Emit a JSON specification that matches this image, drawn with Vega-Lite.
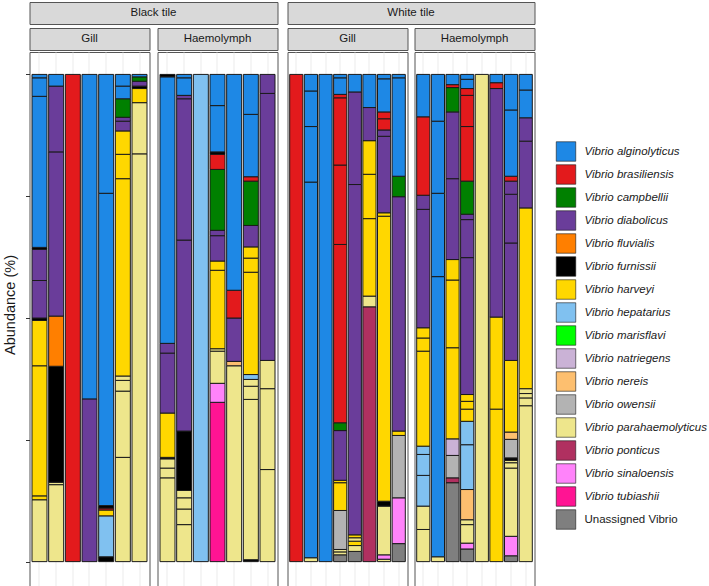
{
  "$schema": "https://vega.github.io/schema/vega-lite/v6.json",
  "padding": {"left": 1.5, "top": 1, "right": 0, "bottom": 0},
  "title": {"text": "Abundance (%)", "orient": "left", "anchor": "middle", "fontSize": 14.5, "fontWeight": "normal", "color": "#1a1a1a", "offset": 6.5, "dx": -11},
  "datasets": {
    "d": [
      {"g":"BG","s":1,"o":1,"sp":"Vibrio parahaemolyticus","v":12.7},
      {"g":"BG","s":1,"o":2,"sp":"Vibrio harveyi","v":0.8},
      {"g":"BG","s":1,"o":3,"sp":"Vibrio harveyi","v":26.7},
      {"g":"BG","s":1,"o":4,"sp":"Vibrio harveyi","v":9.3},
      {"g":"BG","s":1,"o":5,"sp":"Vibrio furnissii","v":0.5},
      {"g":"BG","s":1,"o":6,"sp":"Vibrio diabolicus","v":7.7},
      {"g":"BG","s":1,"o":7,"sp":"Vibrio diabolicus","v":6.4},
      {"g":"BG","s":1,"o":8,"sp":"Vibrio furnissii","v":0.4},
      {"g":"BG","s":1,"o":9,"sp":"Vibrio alginolyticus","v":31.0},
      {"g":"BG","s":1,"o":10,"sp":"Vibrio alginolyticus","v":3.8},
      {"g":"BG","s":1,"o":11,"sp":"Vibrio alginolyticus","v":0.7},
      {"g":"BG","s":2,"o":1,"sp":"Vibrio parahaemolyticus","v":15.8},
      {"g":"BG","s":2,"o":2,"sp":"Vibrio parahaemolyticus","v":0.5},
      {"g":"BG","s":2,"o":3,"sp":"Vibrio furnissii","v":23.8},
      {"g":"BG","s":2,"o":4,"sp":"Vibrio fluvialis","v":10.3},
      {"g":"BG","s":2,"o":5,"sp":"Vibrio diabolicus","v":33.7},
      {"g":"BG","s":2,"o":6,"sp":"Vibrio diabolicus","v":13.5},
      {"g":"BG","s":2,"o":7,"sp":"Vibrio alginolyticus","v":2.4},
      {"g":"BG","s":3,"o":1,"sp":"Vibrio brasiliensis","v":100},
      {"g":"BG","s":4,"o":1,"sp":"Vibrio diabolicus","v":33.4},
      {"g":"BG","s":4,"o":2,"sp":"Vibrio alginolyticus","v":66.6},
      {"g":"BG","s":5,"o":1,"sp":"Vibrio furnissii","v":1.0},
      {"g":"BG","s":5,"o":2,"sp":"Vibrio hepatarius","v":8.4},
      {"g":"BG","s":5,"o":3,"sp":"Vibrio harveyi","v":1.2},
      {"g":"BG","s":5,"o":4,"sp":"Vibrio brasiliensis","v":0.4},
      {"g":"BG","s":5,"o":5,"sp":"Vibrio furnissii","v":0.5},
      {"g":"BG","s":5,"o":6,"sp":"Vibrio alginolyticus","v":64.1},
      {"g":"BG","s":5,"o":7,"sp":"Vibrio alginolyticus","v":24.4},
      {"g":"BG","s":6,"o":1,"sp":"Vibrio parahaemolyticus","v":21.4},
      {"g":"BG","s":6,"o":2,"sp":"Vibrio parahaemolyticus","v":13.6},
      {"g":"BG","s":6,"o":3,"sp":"Vibrio parahaemolyticus","v":2.2},
      {"g":"BG","s":6,"o":4,"sp":"Vibrio parahaemolyticus","v":0.9},
      {"g":"BG","s":6,"o":5,"sp":"Vibrio harveyi","v":40.5},
      {"g":"BG","s":6,"o":6,"sp":"Vibrio harveyi","v":5.0},
      {"g":"BG","s":6,"o":7,"sp":"Vibrio harveyi","v":4.8},
      {"g":"BG","s":6,"o":8,"sp":"Vibrio diabolicus","v":2.0},
      {"g":"BG","s":6,"o":9,"sp":"Vibrio diabolicus","v":0.8},
      {"g":"BG","s":6,"o":10,"sp":"Vibrio campbellii","v":3.8},
      {"g":"BG","s":6,"o":11,"sp":"Vibrio alginolyticus","v":2.6},
      {"g":"BG","s":6,"o":12,"sp":"Vibrio alginolyticus","v":2.4},
      {"g":"BG","s":7,"o":1,"sp":"Vibrio parahaemolyticus","v":83.7},
      {"g":"BG","s":7,"o":2,"sp":"Vibrio parahaemolyticus","v":10.5},
      {"g":"BG","s":7,"o":3,"sp":"Vibrio harveyi","v":2.9},
      {"g":"BG","s":7,"o":4,"sp":"Vibrio furnissii","v":0.5},
      {"g":"BG","s":7,"o":5,"sp":"Vibrio diabolicus","v":1.0},
      {"g":"BG","s":7,"o":6,"sp":"Vibrio campbellii","v":0.9},
      {"g":"BG","s":7,"o":7,"sp":"Vibrio alginolyticus","v":0.5},

      {"g":"BH","s":1,"o":1,"sp":"Vibrio parahaemolyticus","v":17.2},
      {"g":"BH","s":1,"o":2,"sp":"Vibrio parahaemolyticus","v":2.0},
      {"g":"BH","s":1,"o":3,"sp":"Vibrio parahaemolyticus","v":1.9},
      {"g":"BH","s":1,"o":4,"sp":"Vibrio furnissii","v":0.3},
      {"g":"BH","s":1,"o":5,"sp":"Vibrio harveyi","v":9.1},
      {"g":"BH","s":1,"o":6,"sp":"Vibrio diabolicus","v":12.3},
      {"g":"BH","s":1,"o":7,"sp":"Vibrio diabolicus","v":2.0},
      {"g":"BH","s":1,"o":8,"sp":"Vibrio alginolyticus","v":54.7},
      {"g":"BH","s":1,"o":9,"sp":"Vibrio furnissii","v":0.5},
      {"g":"BH","s":2,"o":1,"sp":"Vibrio parahaemolyticus","v":7.6},
      {"g":"BH","s":2,"o":2,"sp":"Vibrio parahaemolyticus","v":3.2},
      {"g":"BH","s":2,"o":3,"sp":"Vibrio parahaemolyticus","v":2.3},
      {"g":"BH","s":2,"o":4,"sp":"Vibrio parahaemolyticus","v":1.5},
      {"g":"BH","s":2,"o":5,"sp":"Vibrio furnissii","v":12.2},
      {"g":"BH","s":2,"o":6,"sp":"Vibrio diabolicus","v":39.2},
      {"g":"BH","s":2,"o":7,"sp":"Vibrio diabolicus","v":29.0},
      {"g":"BH","s":2,"o":8,"sp":"Vibrio diabolicus","v":0.7},
      {"g":"BH","s":2,"o":9,"sp":"Vibrio alginolyticus","v":3.6},
      {"g":"BH","s":2,"o":10,"sp":"Vibrio alginolyticus","v":0.7},
      {"g":"BH","s":3,"o":1,"sp":"Vibrio hepatarius","v":100},
      {"g":"BH","s":4,"o":1,"sp":"Vibrio tubiashii","v":32.7},
      {"g":"BH","s":4,"o":2,"sp":"Vibrio sinaloensis","v":3.9},
      {"g":"BH","s":4,"o":3,"sp":"Vibrio parahaemolyticus","v":6.6},
      {"g":"BH","s":4,"o":4,"sp":"Vibrio parahaemolyticus","v":0.5},
      {"g":"BH","s":4,"o":5,"sp":"Vibrio harveyi","v":16.1},
      {"g":"BH","s":4,"o":6,"sp":"Vibrio harveyi","v":1.9},
      {"g":"BH","s":4,"o":7,"sp":"Vibrio diabolicus","v":5.2},
      {"g":"BH","s":4,"o":8,"sp":"Vibrio diabolicus","v":1.1},
      {"g":"BH","s":4,"o":9,"sp":"Vibrio campbellii","v":12.5},
      {"g":"BH","s":4,"o":10,"sp":"Vibrio brasiliensis","v":3.1},
      {"g":"BH","s":4,"o":11,"sp":"Vibrio furnissii","v":0.5},
      {"g":"BH","s":4,"o":12,"sp":"Vibrio alginolyticus","v":9.5},
      {"g":"BH","s":4,"o":13,"sp":"Vibrio alginolyticus","v":6.4},
      {"g":"BH","s":5,"o":1,"sp":"Vibrio parahaemolyticus","v":40.2},
      {"g":"BH","s":5,"o":2,"sp":"Vibrio nereis","v":0.9},
      {"g":"BH","s":5,"o":3,"sp":"Vibrio diabolicus","v":8.9},
      {"g":"BH","s":5,"o":4,"sp":"Vibrio brasiliensis","v":5.7},
      {"g":"BH","s":5,"o":5,"sp":"Vibrio alginolyticus","v":44.3},
      {"g":"BH","s":6,"o":1,"sp":"Vibrio furnissii","v":0.4},
      {"g":"BH","s":6,"o":2,"sp":"Vibrio parahaemolyticus","v":32.9},
      {"g":"BH","s":6,"o":3,"sp":"Vibrio parahaemolyticus","v":2.7},
      {"g":"BH","s":6,"o":4,"sp":"Vibrio parahaemolyticus","v":1.4},
      {"g":"BH","s":6,"o":5,"sp":"Vibrio hepatarius","v":1.0},
      {"g":"BH","s":6,"o":6,"sp":"Vibrio harveyi","v":21.0},
      {"g":"BH","s":6,"o":7,"sp":"Vibrio harveyi","v":2.9},
      {"g":"BH","s":6,"o":8,"sp":"Vibrio harveyi","v":2.3},
      {"g":"BH","s":6,"o":9,"sp":"Vibrio diabolicus","v":4.4},
      {"g":"BH","s":6,"o":10,"sp":"Vibrio campbellii","v":9.1},
      {"g":"BH","s":6,"o":11,"sp":"Vibrio brasiliensis","v":0.9},
      {"g":"BH","s":6,"o":12,"sp":"Vibrio alginolyticus","v":12.8},
      {"g":"BH","s":6,"o":13,"sp":"Vibrio alginolyticus","v":8.2},
      {"g":"BH","s":7,"o":1,"sp":"Vibrio parahaemolyticus","v":18.9},
      {"g":"BH","s":7,"o":2,"sp":"Vibrio parahaemolyticus","v":16.6},
      {"g":"BH","s":7,"o":3,"sp":"Vibrio parahaemolyticus","v":5.8},
      {"g":"BH","s":7,"o":4,"sp":"Vibrio diabolicus","v":54.8},
      {"g":"BH","s":7,"o":5,"sp":"Vibrio diabolicus","v":3.9},

      {"g":"WG","s":1,"o":1,"sp":"Vibrio brasiliensis","v":100},
      {"g":"WG","s":2,"o":1,"sp":"Vibrio parahaemolyticus","v":0.8},
      {"g":"WG","s":2,"o":2,"sp":"Vibrio alginolyticus","v":77.1},
      {"g":"WG","s":2,"o":3,"sp":"Vibrio alginolyticus","v":11.4},
      {"g":"WG","s":2,"o":4,"sp":"Vibrio alginolyticus","v":7.3},
      {"g":"WG","s":2,"o":5,"sp":"Vibrio alginolyticus","v":3.4},
      {"g":"WG","s":3,"o":1,"sp":"Vibrio alginolyticus","v":100},
      {"g":"WG","s":4,"o":1,"sp":"Unassigned Vibrio","v":1.4},
      {"g":"WG","s":4,"o":2,"sp":"Vibrio parahaemolyticus","v":0.6},
      {"g":"WG","s":4,"o":3,"sp":"Vibrio parahaemolyticus","v":0.5},
      {"g":"WG","s":4,"o":4,"sp":"Vibrio owensii","v":8.0},
      {"g":"WG","s":4,"o":5,"sp":"Vibrio harveyi","v":5.7},
      {"g":"WG","s":4,"o":6,"sp":"Vibrio harveyi","v":0.5},
      {"g":"WG","s":4,"o":7,"sp":"Vibrio diabolicus","v":10.2},
      {"g":"WG","s":4,"o":8,"sp":"Vibrio campbellii","v":1.6},
      {"g":"WG","s":4,"o":9,"sp":"Vibrio brasiliensis","v":36.6},
      {"g":"WG","s":4,"o":10,"sp":"Vibrio brasiliensis","v":16.3},
      {"g":"WG","s":4,"o":11,"sp":"Vibrio brasiliensis","v":13.8},
      {"g":"WG","s":4,"o":12,"sp":"Vibrio brasiliensis","v":0.7},
      {"g":"WG","s":4,"o":13,"sp":"Vibrio alginolyticus","v":3.4},
      {"g":"WG","s":4,"o":14,"sp":"Vibrio alginolyticus","v":0.7},
      {"g":"WG","s":5,"o":1,"sp":"Unassigned Vibrio","v":2.1},
      {"g":"WG","s":5,"o":2,"sp":"Vibrio parahaemolyticus","v":1.2},
      {"g":"WG","s":5,"o":3,"sp":"Vibrio harveyi","v":0.9},
      {"g":"WG","s":5,"o":4,"sp":"Vibrio parahaemolyticus","v":0.7},
      {"g":"WG","s":5,"o":5,"sp":"Vibrio harveyi","v":0.6},
      {"g":"WG","s":5,"o":6,"sp":"Vibrio diabolicus","v":71.9},
      {"g":"WG","s":5,"o":7,"sp":"Vibrio diabolicus","v":19.0},
      {"g":"WG","s":5,"o":8,"sp":"Vibrio alginolyticus","v":3.6},
      {"g":"WG","s":6,"o":1,"sp":"Vibrio ponticus","v":52.3},
      {"g":"WG","s":6,"o":2,"sp":"Vibrio parahaemolyticus","v":2.2},
      {"g":"WG","s":6,"o":3,"sp":"Vibrio harveyi","v":15.9},
      {"g":"WG","s":6,"o":4,"sp":"Vibrio harveyi","v":9.1},
      {"g":"WG","s":6,"o":5,"sp":"Vibrio harveyi","v":6.9},
      {"g":"WG","s":6,"o":6,"sp":"Vibrio diabolicus","v":6.8},
      {"g":"WG","s":6,"o":7,"sp":"Vibrio alginolyticus","v":6.8},
      {"g":"WG","s":7,"o":1,"sp":"Vibrio parahaemolyticus","v":0.5},
      {"g":"WG","s":7,"o":2,"sp":"Vibrio sinaloensis","v":0.9},
      {"g":"WG","s":7,"o":3,"sp":"Vibrio parahaemolyticus","v":10.0},
      {"g":"WG","s":7,"o":4,"sp":"Vibrio furnissii","v":1.0},
      {"g":"WG","s":7,"o":5,"sp":"Vibrio harveyi","v":58.5},
      {"g":"WG","s":7,"o":6,"sp":"Vibrio harveyi","v":0.7},
      {"g":"WG","s":7,"o":7,"sp":"Vibrio diabolicus","v":15.7},
      {"g":"WG","s":7,"o":8,"sp":"Vibrio diabolicus","v":1.3},
      {"g":"WG","s":7,"o":9,"sp":"Vibrio brasiliensis","v":2.3},
      {"g":"WG","s":7,"o":10,"sp":"Vibrio brasiliensis","v":1.4},
      {"g":"WG","s":7,"o":11,"sp":"Vibrio alginolyticus","v":6.8},
      {"g":"WG","s":7,"o":12,"sp":"Vibrio alginolyticus","v":0.9},
      {"g":"WG","s":8,"o":1,"sp":"Unassigned Vibrio","v":3.7},
      {"g":"WG","s":8,"o":2,"sp":"Vibrio sinaloensis","v":9.4},
      {"g":"WG","s":8,"o":3,"sp":"Vibrio owensii","v":12.8},
      {"g":"WG","s":8,"o":4,"sp":"Vibrio harveyi","v":0.9},
      {"g":"WG","s":8,"o":5,"sp":"Vibrio diabolicus","v":48.1},
      {"g":"WG","s":8,"o":6,"sp":"Vibrio campbellii","v":4.2},
      {"g":"WG","s":8,"o":7,"sp":"Vibrio alginolyticus","v":20.2},
      {"g":"WG","s":8,"o":8,"sp":"Vibrio alginolyticus","v":0.7},

      {"g":"WH","s":1,"o":1,"sp":"Vibrio parahaemolyticus","v":6.6},
      {"g":"WH","s":1,"o":2,"sp":"Vibrio parahaemolyticus","v":4.8},
      {"g":"WH","s":1,"o":3,"sp":"Vibrio hepatarius","v":6.3},
      {"g":"WH","s":1,"o":4,"sp":"Vibrio hepatarius","v":4.3},
      {"g":"WH","s":1,"o":5,"sp":"Vibrio hepatarius","v":1.7},
      {"g":"WH","s":1,"o":6,"sp":"Vibrio harveyi","v":19.5},
      {"g":"WH","s":1,"o":7,"sp":"Vibrio harveyi","v":2.7},
      {"g":"WH","s":1,"o":8,"sp":"Vibrio harveyi","v":2.1},
      {"g":"WH","s":1,"o":9,"sp":"Vibrio diabolicus","v":24.3},
      {"g":"WH","s":1,"o":10,"sp":"Vibrio diabolicus","v":2.9},
      {"g":"WH","s":1,"o":11,"sp":"Vibrio brasiliensis","v":16.1},
      {"g":"WH","s":1,"o":12,"sp":"Vibrio alginolyticus","v":8.7},
      {"g":"WH","s":2,"o":1,"sp":"Vibrio parahaemolyticus","v":1.0},
      {"g":"WH","s":2,"o":2,"sp":"Vibrio alginolyticus","v":57.5},
      {"g":"WH","s":2,"o":3,"sp":"Vibrio alginolyticus","v":17.1},
      {"g":"WH","s":2,"o":4,"sp":"Vibrio alginolyticus","v":14.8},
      {"g":"WH","s":2,"o":5,"sp":"Vibrio alginolyticus","v":9.6},
      {"g":"WH","s":3,"o":1,"sp":"Unassigned Vibrio","v":16.2},
      {"g":"WH","s":3,"o":2,"sp":"Vibrio ponticus","v":1.0},
      {"g":"WH","s":3,"o":3,"sp":"Vibrio owensii","v":4.6},
      {"g":"WH","s":3,"o":4,"sp":"Vibrio natriegens","v":3.4},
      {"g":"WH","s":3,"o":5,"sp":"Vibrio harveyi","v":18.7},
      {"g":"WH","s":3,"o":6,"sp":"Vibrio harveyi","v":13.9},
      {"g":"WH","s":3,"o":7,"sp":"Vibrio harveyi","v":4.2},
      {"g":"WH","s":3,"o":8,"sp":"Vibrio diabolicus","v":16.6},
      {"g":"WH","s":3,"o":9,"sp":"Vibrio diabolicus","v":13.7},
      {"g":"WH","s":3,"o":10,"sp":"Vibrio campbellii","v":5.0},
      {"g":"WH","s":3,"o":11,"sp":"Vibrio brasiliensis","v":0.6},
      {"g":"WH","s":3,"o":12,"sp":"Vibrio alginolyticus","v":2.1},
      {"g":"WH","s":4,"o":1,"sp":"Unassigned Vibrio","v":2.6},
      {"g":"WH","s":4,"o":2,"sp":"Vibrio sinaloensis","v":1.2},
      {"g":"WH","s":4,"o":3,"sp":"Vibrio parahaemolyticus","v":3.8},
      {"g":"WH","s":4,"o":4,"sp":"Vibrio parahaemolyticus","v":1.0},
      {"g":"WH","s":4,"o":5,"sp":"Vibrio nereis","v":6.2},
      {"g":"WH","s":4,"o":6,"sp":"Vibrio hepatarius","v":9.2},
      {"g":"WH","s":4,"o":7,"sp":"Vibrio hepatarius","v":4.8},
      {"g":"WH","s":4,"o":8,"sp":"Vibrio harveyi","v":2.5},
      {"g":"WH","s":4,"o":9,"sp":"Vibrio harveyi","v":1.6},
      {"g":"WH","s":4,"o":10,"sp":"Vibrio harveyi","v":1.4},
      {"g":"WH","s":4,"o":11,"sp":"Vibrio diabolicus","v":28.1},
      {"g":"WH","s":4,"o":12,"sp":"Vibrio diabolicus","v":7.8},
      {"g":"WH","s":4,"o":13,"sp":"Vibrio diabolicus","v":1.1},
      {"g":"WH","s":4,"o":14,"sp":"Vibrio campbellii","v":6.8},
      {"g":"WH","s":4,"o":15,"sp":"Vibrio brasiliensis","v":11.2},
      {"g":"WH","s":4,"o":16,"sp":"Vibrio brasiliensis","v":6.4},
      {"g":"WH","s":4,"o":17,"sp":"Vibrio brasiliensis","v":1.4},
      {"g":"WH","s":4,"o":18,"sp":"Vibrio alginolyticus","v":1.9},
      {"g":"WH","s":4,"o":19,"sp":"Vibrio alginolyticus","v":1.0},
      {"g":"WH","s":5,"o":1,"sp":"Vibrio parahaemolyticus","v":100},
      {"g":"WH","s":6,"o":1,"sp":"Vibrio harveyi","v":31.3},
      {"g":"WH","s":6,"o":2,"sp":"Vibrio harveyi","v":18.9},
      {"g":"WH","s":6,"o":3,"sp":"Vibrio diabolicus","v":46.9},
      {"g":"WH","s":6,"o":4,"sp":"Vibrio brasiliensis","v":1.2},
      {"g":"WH","s":6,"o":5,"sp":"Vibrio alginolyticus","v":1.7},
      {"g":"WH","s":7,"o":1,"sp":"Unassigned Vibrio","v":1.2},
      {"g":"WH","s":7,"o":2,"sp":"Vibrio sinaloensis","v":4.0},
      {"g":"WH","s":7,"o":3,"sp":"Vibrio parahaemolyticus","v":14.0},
      {"g":"WH","s":7,"o":4,"sp":"Vibrio parahaemolyticus","v":1.1},
      {"g":"WH","s":7,"o":5,"sp":"Vibrio parahaemolyticus","v":0.5},
      {"g":"WH","s":7,"o":6,"sp":"Vibrio furnissii","v":0.5},
      {"g":"WH","s":7,"o":7,"sp":"Vibrio owensii","v":3.8},
      {"g":"WH","s":7,"o":8,"sp":"Vibrio nereis","v":1.5},
      {"g":"WH","s":7,"o":9,"sp":"Vibrio harveyi","v":14.7},
      {"g":"WH","s":7,"o":10,"sp":"Vibrio diabolicus","v":24.1},
      {"g":"WH","s":7,"o":11,"sp":"Vibrio diabolicus","v":10.0},
      {"g":"WH","s":7,"o":12,"sp":"Vibrio diabolicus","v":2.7},
      {"g":"WH","s":7,"o":13,"sp":"Vibrio brasiliensis","v":1.0},
      {"g":"WH","s":7,"o":14,"sp":"Vibrio alginolyticus","v":13.6},
      {"g":"WH","s":7,"o":15,"sp":"Vibrio alginolyticus","v":7.3},
      {"g":"WH","s":8,"o":1,"sp":"Vibrio parahaemolyticus","v":32.0},
      {"g":"WH","s":8,"o":2,"sp":"Vibrio parahaemolyticus","v":1.6},
      {"g":"WH","s":8,"o":3,"sp":"Vibrio parahaemolyticus","v":0.9},
      {"g":"WH","s":8,"o":4,"sp":"Vibrio parahaemolyticus","v":1.0},
      {"g":"WH","s":8,"o":5,"sp":"Vibrio harveyi","v":37.1},
      {"g":"WH","s":8,"o":6,"sp":"Vibrio diabolicus","v":13.7},
      {"g":"WH","s":8,"o":7,"sp":"Vibrio diabolicus","v":4.8},
      {"g":"WH","s":8,"o":8,"sp":"Vibrio alginolyticus","v":5.7},
      {"g":"WH","s":8,"o":9,"sp":"Vibrio alginolyticus","v":3.2}
    ]
  },
  "spacing": 8,
  "hconcat": [
    {
      "spacing": 2,
      "vconcat": [
        {
          "width": 248, "height": 22,
          "data": {"values": [{"l": "Black tile"}]},
          "view": {"fill": "#d9d9d9", "stroke": "#555555"},
          "mark": {"type": "text", "fontSize": 11.5, "color": "#1a1a1a"},
          "encoding": {
            "text": {"field": "l"},
            "y": {"datum": 0.5, "type": "quantitative", "scale": {"domain": [0, 1]}, "axis": {"values": [0.5], "labels": false, "domain": false, "grid": false, "title": null, "ticks": true, "tickColor": "transparent", "tickSize": 4}}
          }
        },
        {
          "spacing": 6,
          "hconcat": [
            {
              "spacing": 0,
              "vconcat": [
                {
                  "width": 120, "height": 22,
                  "data": {"values": [{"l": "Gill"}]},
                  "view": {"fill": "#d9d9d9", "stroke": "#555555"},
                  "mark": {"type": "text", "fontSize": 11.5, "color": "#1a1a1a"},
                  "encoding": {
                    "text": {"field": "l"},
                    "y": {"datum": 0.5, "type": "quantitative", "scale": {"domain": [0, 1]}, "axis": {"values": [0.5], "labels": false, "domain": false, "grid": false, "title": null, "ticks": true, "tickColor": "transparent", "tickSize": 4}}
                  }
                },
                {
                  "width": 120, "height": 534,
                  "data": {"name": "d"},
                  "transform": [{"filter": "datum.g == 'BG'"}],
                  "mark": {"type": "bar", "stroke": "#1a1a1a", "strokeWidth": 1},
                  "encoding": {
                    "x": {"field": "s", "type": "ordinal", "scale": {"paddingInner": 0.1, "paddingOuter": 0.15}, "axis": {"labels": false, "ticks": false, "domain": false, "title": null, "grid": true, "gridColor": "#ebebeb", "bandPosition": 0.5}},
                    "y": {"field": "v", "type": "quantitative", "stack": "zero", "scale": {"domain": [-5.0, 104.6], "nice": false, "zero": false}, "axis": {"values": [0, 25, 50, 75, 100], "labels": false, "domain": false, "grid": false, "title": null, "ticks": true, "tickColor": "#333333", "tickSize": 4}},
                    "order": {"field": "o", "type": "quantitative"},
                    "color": {"field": "sp", "type": "nominal",
                      "scale": {"domain": ["Vibrio alginolyticus","Vibrio brasiliensis","Vibrio campbellii","Vibrio diabolicus","Vibrio fluvialis","Vibrio furnissii","Vibrio harveyi","Vibrio hepatarius","Vibrio marisflavi","Vibrio natriegens","Vibrio nereis","Vibrio owensii","Vibrio parahaemolyticus","Vibrio ponticus","Vibrio sinaloensis","Vibrio tubiashii","Unassigned Vibrio"],
                                "range": ["#1E88E5","#E31A1C","#008000","#6A3D9A","#FF7F00","#000000","#FFD700","#80C1F0","#00FF00","#CAB2D6","#FDBF6F","#B3B3B3","#EEE68C","#B03060","#FF83FA","#FF1493","#7F7F7F"]},
                      "legend": {"title": null, "orient": "none", "legendX": 526, "legendY": 139}}
                  }
                }
              ]
            },
            {
              "spacing": 0,
              "vconcat": [
                {
                  "width": 120, "height": 22,
                  "data": {"values": [{"l": "Haemolymph"}]},
                  "view": {"fill": "#d9d9d9", "stroke": "#555555"},
                  "mark": {"type": "text", "fontSize": 11.5, "color": "#1a1a1a"},
                  "encoding": {"text": {"field": "l"}}
                },
                {
                  "width": 120, "height": 534,
                  "data": {"name": "d"},
                  "transform": [{"filter": "datum.g == 'BH'"}],
                  "mark": {"type": "bar", "stroke": "#1a1a1a", "strokeWidth": 1},
                  "encoding": {
                    "x": {"field": "s", "type": "ordinal", "scale": {"paddingInner": 0.1, "paddingOuter": 0.15}, "axis": {"labels": false, "ticks": false, "domain": false, "title": null, "grid": true, "gridColor": "#ebebeb", "bandPosition": 0.5}},
                    "y": {"field": "v", "type": "quantitative", "stack": "zero", "scale": {"domain": [-5.0, 104.6], "nice": false, "zero": false}, "axis": null},
                    "order": {"field": "o", "type": "quantitative"},
                    "color": {"field": "sp", "type": "nominal",
                      "scale": {"domain": ["Vibrio alginolyticus","Vibrio brasiliensis","Vibrio campbellii","Vibrio diabolicus","Vibrio fluvialis","Vibrio furnissii","Vibrio harveyi","Vibrio hepatarius","Vibrio marisflavi","Vibrio natriegens","Vibrio nereis","Vibrio owensii","Vibrio parahaemolyticus","Vibrio ponticus","Vibrio sinaloensis","Vibrio tubiashii","Unassigned Vibrio"],
                                "range": ["#1E88E5","#E31A1C","#008000","#6A3D9A","#FF7F00","#000000","#FFD700","#80C1F0","#00FF00","#CAB2D6","#FDBF6F","#B3B3B3","#EEE68C","#B03060","#FF83FA","#FF1493","#7F7F7F"]},
                      "legend": {"title": null, "orient": "none", "legendX": 526, "legendY": 139}}
                  }
                }
              ]
            }
          ]
        }
      ]
    },
    {
      "spacing": 2,
      "vconcat": [
        {
          "width": 247, "height": 22,
          "data": {"values": [{"l": "White tile"}]},
          "view": {"fill": "#d9d9d9", "stroke": "#555555"},
          "mark": {"type": "text", "fontSize": 11.5, "color": "#1a1a1a"},
          "encoding": {"text": {"field": "l"}}
        },
        {
          "spacing": 5,
          "hconcat": [
            {
              "spacing": 0,
              "vconcat": [
                {
                  "width": 120, "height": 22,
                  "data": {"values": [{"l": "Gill"}]},
                  "view": {"fill": "#d9d9d9", "stroke": "#555555"},
                  "mark": {"type": "text", "fontSize": 11.5, "color": "#1a1a1a"},
                  "encoding": {"text": {"field": "l"}}
                },
                {
                  "width": 120, "height": 534,
                  "data": {"name": "d"},
                  "transform": [{"filter": "datum.g == 'WG'"}],
                  "mark": {"type": "bar", "stroke": "#1a1a1a", "strokeWidth": 1},
                  "encoding": {
                    "x": {"field": "s", "type": "ordinal", "scale": {"paddingInner": 0.1, "paddingOuter": 0.15}, "axis": {"labels": false, "ticks": false, "domain": false, "title": null, "grid": true, "gridColor": "#ebebeb", "bandPosition": 0.5}},
                    "y": {"field": "v", "type": "quantitative", "stack": "zero", "scale": {"domain": [-5.0, 104.6], "nice": false, "zero": false}, "axis": null},
                    "order": {"field": "o", "type": "quantitative"},
                    "color": {"field": "sp", "type": "nominal",
                      "scale": {"domain": ["Vibrio alginolyticus","Vibrio brasiliensis","Vibrio campbellii","Vibrio diabolicus","Vibrio fluvialis","Vibrio furnissii","Vibrio harveyi","Vibrio hepatarius","Vibrio marisflavi","Vibrio natriegens","Vibrio nereis","Vibrio owensii","Vibrio parahaemolyticus","Vibrio ponticus","Vibrio sinaloensis","Vibrio tubiashii","Unassigned Vibrio"],
                                "range": ["#1E88E5","#E31A1C","#008000","#6A3D9A","#FF7F00","#000000","#FFD700","#80C1F0","#00FF00","#CAB2D6","#FDBF6F","#B3B3B3","#EEE68C","#B03060","#FF83FA","#FF1493","#7F7F7F"]},
                      "legend": {"title": null, "orient": "none", "legendX": 526, "legendY": 139}}
                  }
                }
              ]
            },
            {
              "spacing": 0,
              "vconcat": [
                {
                  "width": 120, "height": 22,
                  "data": {"values": [{"l": "Haemolymph"}]},
                  "view": {"fill": "#d9d9d9", "stroke": "#555555"},
                  "mark": {"type": "text", "fontSize": 11.5, "color": "#1a1a1a"},
                  "encoding": {"text": {"field": "l"}}
                },
                {
                  "width": 120, "height": 534,
                  "data": {"name": "d"},
                  "transform": [{"filter": "datum.g == 'WH'"}],
                  "mark": {"type": "bar", "stroke": "#1a1a1a", "strokeWidth": 1},
                  "encoding": {
                    "x": {"field": "s", "type": "ordinal", "scale": {"paddingInner": 0.1, "paddingOuter": 0.15}, "axis": {"labels": false, "ticks": false, "domain": false, "title": null, "grid": true, "gridColor": "#ebebeb", "bandPosition": 0.5}},
                    "y": {"field": "v", "type": "quantitative", "stack": "zero", "scale": {"domain": [-5.0, 104.6], "nice": false, "zero": false}, "axis": null},
                    "order": {"field": "o", "type": "quantitative"},
                    "color": {"field": "sp", "type": "nominal",
                      "scale": {"domain": ["Vibrio alginolyticus","Vibrio brasiliensis","Vibrio campbellii","Vibrio diabolicus","Vibrio fluvialis","Vibrio furnissii","Vibrio harveyi","Vibrio hepatarius","Vibrio marisflavi","Vibrio natriegens","Vibrio nereis","Vibrio owensii","Vibrio parahaemolyticus","Vibrio ponticus","Vibrio sinaloensis","Vibrio tubiashii","Unassigned Vibrio"],
                                "range": ["#1E88E5","#E31A1C","#008000","#6A3D9A","#FF7F00","#000000","#FFD700","#80C1F0","#00FF00","#CAB2D6","#FDBF6F","#B3B3B3","#EEE68C","#B03060","#FF83FA","#FF1493","#7F7F7F"]},
                      "legend": {"title": null, "orient": "none", "legendX": 526, "legendY": 139}}
                  }
                }
              ]
            }
          ]
        }
      ]
    }
  ],
  "config": {
    "font": "Liberation Sans",
    "view": {"stroke": "#555555", "strokeWidth": 1},
    "legend": {
      "symbolType": "square",
      "symbolSize": 380,
      "symbolStrokeColor": "#1a1a1a",
      "symbolStrokeWidth": 0.6,
      "symbolOpacity": 1,
      "labelFontSize": 11.5,
      "labelColor": "#1a1a1a",
      "labelFontStyle": {"expr": "datum.label == 'Unassigned Vibrio' ? 'normal' : 'italic'"},
      "labelOffset": 8,
      "rowPadding": 0,
      "padding": 0
    }
  }
}
